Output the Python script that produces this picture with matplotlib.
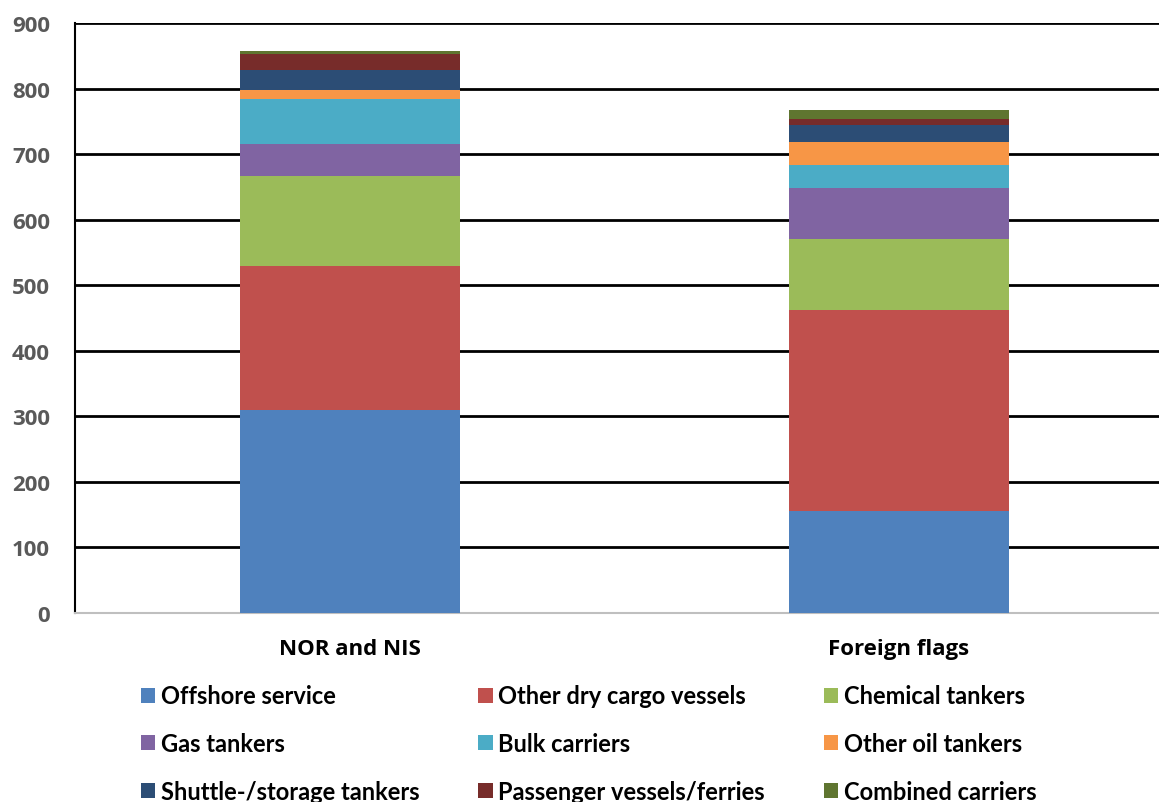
import matplotlib
matplotlib.use('Agg')
from matplotlib import pyplot as plt
from matplotlib.patches import Patch
import numpy as np

categories = ['NOR and NIS', 'Foreign flags']
series_names = ['Offshore service', 'Other dry cargo vessels', 'Chemical tankers',
                'Gas tankers', 'Bulk carriers', 'Other oil tankers',
                'Shuttle-/storage tankers', 'Passenger vessels/ferries', 'Combined carriers']
offshore = [309, 155]
other_dry = [221, 307]
chemical = [136, 108]
gas = [49, 78]
bulk = [69, 35]
other_oil = [14, 35]
shuttle = [30, 27]
passenger = [25, 9]
combined = [4, 13]
yticks = [0, 100, 200, 300, 400, 500, 600, 700, 800, 900]

colors = ['#4f81bd', '#c0504d', '#9bbb59', '#8064a2', '#4bacc6',
          '#f79646', '#2c4d75', '#772c2a', '#5f7530']
series = [offshore, other_dry, chemical, gas, bulk, other_oil, shuttle, passenger, combined]

fig = plt.figure(figsize=(11.59, 8.03), dpi=100)
ax = fig.add_axes([0.0647, 0.2354, 0.948, 0.7347])

x = np.arange(len(categories))
bottom = np.zeros(len(categories))
for vals, col in zip(series, colors):
    ax.bar(x, vals, 0.4, bottom=bottom, color=col, zorder=3)
    bottom += np.array(vals)

ax.set_xlim(-0.5, 1.5)
ax.set_ylim(0, 900)
ax.set_yticks(yticks)
ax.yaxis.grid(True, color='black', linewidth=2, zorder=0)
ax.set_axisbelow(True)
for s in ['top', 'right']:
    ax.spines[s].set_visible(False)
ax.spines['left'].set_color('black')
ax.spines['left'].set_linewidth(1.5)
ax.spines['bottom'].set_color('#bfbfbf')
ax.spines['bottom'].set_linewidth(1.5)
ax.tick_params(axis='both', length=0)
ax.tick_params(axis='y', pad=18)
ax.tick_params(axis='x', pad=18)
ax.set_yticklabels([str(v) for v in yticks], fontfamily='Open Sans', fontweight='bold',
                   fontsize=16, color='#595959')
ax.set_xticks(x)
ax.set_xticklabels(categories, fontfamily='Open Sans', fontweight='bold',
                   fontsize=16, color='black')

# legend fills column by column, so reorder to read row by row
order = [0, 3, 6, 1, 4, 7, 2, 5, 8]
handles = [Patch(facecolor=colors[i], edgecolor='none') for i in order]
labels = [series_names[i] for i in order]
leg = fig.legend(handles, labels, loc='upper left', bbox_to_anchor=(0.103, 0.173),
                 ncol=3, frameon=False, handlelength=0.6, handleheight=0.6,
                 handletextpad=0.25, columnspacing=2.5, labelspacing=1.05,
                 prop={'family': 'Lato', 'weight': 'bold', 'size': 17})

fig.savefig('out.png', dpi=100)
